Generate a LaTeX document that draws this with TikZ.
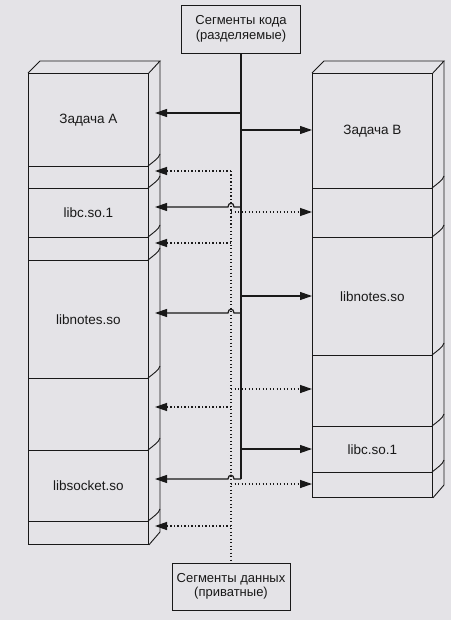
\documentclass[tikz,border=0pt]{standalone}
\usepackage{fontspec}
\setmainfont{Liberation Sans}
\usetikzlibrary{arrows.meta}
\definecolor{bg}{RGB}{228,227,231}
\definecolor{ink}{RGB}{25,25,25}
\begin{document}
\begin{tikzpicture}[x=1pt,y=-1pt,
  edge/.style={draw=ink,line width=0.9pt},
  seg/.style={edge,minimum width=120pt,inner sep=0pt,anchor=north west,
    font=\fontsize{13.5}{15}\selectfont,text=ink},
  label box/.style={edge,fill=bg,minimum width=119pt,minimum height=48pt,inner sep=0pt,
    align=center,font=\fontsize{13}{14.5}\selectfont,text=ink},
  tip/.style={-{Triangle[length=12pt,width=8pt]}},
  solidarr/.style={draw=ink,line width=1.2pt,tip},
  dotarr/.style={draw=ink,line width=1.3pt,dash pattern=on 1.3pt off 2.2pt,tip},
  brk/.style={edge}]
\useasboundingbox (0,0) rectangle (451,620);
\fill[bg] (0,0) rectangle (451,620);

% ---- left stack (Task A)
\node[seg,minimum height=93pt] (A1) at (28,73) {Задача A};
\node[seg,minimum height=22pt] (A2) at (28,166) {};
\node[seg,minimum height=49pt] (A3) at (28,188) {libc.so.1};
\node[seg,minimum height=23pt] (A4) at (28,237) {};
\node[seg,minimum height=118pt] (A5) at (28,260) {libnotes.so};
\node[seg,minimum height=72pt] (A6) at (28,378) {};
\node[seg,minimum height=71pt] (A7) at (28,450) {libsocket.so};
\node[seg,minimum height=23pt] (A8) at (28,521) {};
\draw[edge] (A1.north west) -- ++(12,-12) -- ++(120,0) -- (A1.north east);
\draw[edge] (160,61) -- (160,532) -- (A8.south east);
\foreach \y in {166,188,237,260,378,450,521}
  \draw[brk] (148,\y) .. controls (153,\y-4) and (159,\y-8) .. (160,\y-12);

% ---- right stack (Task B)
\node[seg,minimum height=115pt] (B1) at (312,73) {Задача B};
\node[seg,minimum height=49pt] (B2) at (312,188) {};
\node[seg,minimum height=118pt] (B3) at (312,237) {libnotes.so};
\node[seg,minimum height=71pt] (B4) at (312,355) {};
\node[seg,minimum height=46pt] (B5) at (312,426) {libc.so.1};
\node[seg,minimum height=25pt] (B6) at (312,472) {};
\draw[edge] (B1.north west) -- ++(12,-12) -- ++(120,0) -- (B1.north east);
\draw[edge] (444,61) -- (444,485) -- (B6.south east);
\foreach \y in {188,237,355,426,472}
  \draw[brk] (432,\y) .. controls (437,\y-4) and (443,\y-8) .. (444,\y-12);

% ---- label boxes
\node[label box] (code) at (241,29) {Сегменты кода\\(разделяемые)};
\node[label box,minimum width=118pt,minimum height=47pt] (data) at (231,586.5) {Сегменты данных\\(приватные)};

% ---- coordinates
\coordinate (cEnd) at (241,479);
\coordinate (dTop) at (231,171);
\foreach \n/\x/\y in {cA/241/113,cB/241/130,cC/241/207,cD/241/296,cE/241/313,cF/241/449,
  tA/155/113,tB/312/130,tC/155/207,tD/312/296,tE/155/313,tF/312/449,tG/155/479,
  dB/231/212,dC/231/243,dD/231/389,dE/231/407,dF/231/484,dG/231/526,
  uA/155/171,uB/312/212,uC/155/243,uD/312/389,uE/155/407,uF/312/484,uG/155/526}
  \coordinate (\n) at (\x,\y);

% ---- code segment line (solid)
\draw[edge,line width=1.1pt] (code.south) -- (cEnd);
\draw[solidarr] (cA) -- (tA);
\draw[solidarr] (cB) -- (tB);
\draw[solidarr] (cD) -- (tD);
\draw[solidarr] (cF) -- (tF);
\draw[solidarr] (cC) -- ++(-7,0) .. controls +(0,-5) and +(0,-5) .. ++(-6,0) -- (tC);
\draw[solidarr] (cE) -- ++(-7,0) .. controls +(0,-5) and +(0,-5) .. ++(-6,0) -- (tE);
\draw[solidarr] (cEnd) -- ++(-7,0) .. controls +(0,-5) and +(0,-5) .. ++(-6,0) -- (tG);

% ---- data segment line (dotted)
\draw[draw=ink,line width=1.3pt,dash pattern=on 1.3pt off 2.2pt] (dTop) -- (data.north);
\draw[dotarr] (dTop) -- (uA);
\draw[dotarr] (dB) -- (uB);
\draw[dotarr] (dC) -- (uC);
\draw[dotarr] (dD) -- (uD);
\draw[dotarr] (dE) -- (uE);
\draw[dotarr] (dF) -- (uF);
\draw[dotarr] (dG) -- (uG);
\end{tikzpicture}
\end{document}
